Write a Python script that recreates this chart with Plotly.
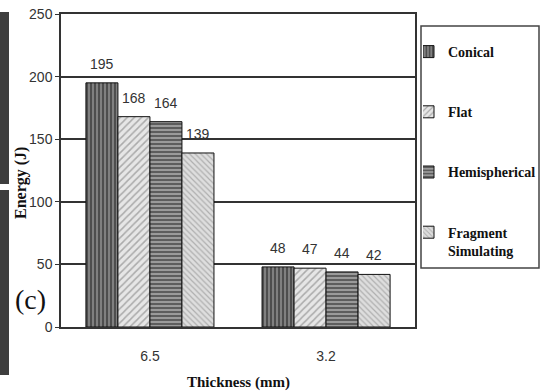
import plotly.graph_objects as go

# Impact energy by projectile nose shape and plate thickness
thickness = ["6.5", "3.2"]
series_names = ["Conical", "Flat", "Hemispherical", "Fragment<br>Simulating"]
conical = [195, 48]
flat = [168, 47]
hemispherical = [164, 44]
fragment = [139, 42]
values = [conical, flat, hemispherical, fragment]
y_ticks = [0, 50, 100, 150, 200, 250]

# hatch style for each series
patterns = [
    dict(shape="|", fgcolor="#111111", bgcolor="#808080", size=4, solidity=0.45),
    dict(shape="/", fgcolor="#6e6e6e", bgcolor="#e6e6e6", size=5, solidity=0.3),
    dict(shape="-", fgcolor="#111111", bgcolor="#9a9a9a", size=4, solidity=0.45),
    dict(shape="\\", fgcolor="#808080", bgcolor="#dedede", size=4, solidity=0.3),
]

W, H = 548, 392
ML, MR, MT, MB = 61, 133, 14, 65
PW, PH = W - ML - MR, H - MT - MB


def px_x(x):
    return (x - ML) / PW


def px_y(y):
    return (H - MB - y) / PH


BARGAP = 0.273
sans = "Liberation Sans, Arial, sans-serif"
serif = "Liberation Serif, Times New Roman, serif"

fig = go.Figure()
for i, (name, vals, pat) in enumerate(zip(series_names, values, patterns)):
    fig.add_trace(go.Bar(
        x=thickness, y=vals, name=name, legendgroup=str(i),
        marker=dict(color=pat["bgcolor"], pattern=pat,
                    line=dict(color="#111111", width=1)),
    ))

# value labels above each bar
n = len(values)
group_w = 1 - BARGAP
bar_w = group_w / n
annotations = []
for i, vals in enumerate(values):
    offset = -group_w / 2 + (i + 0.5) * bar_w
    for j, v in enumerate(vals):
        annotations.append(dict(
            x=j + offset, y=v, xref="x", yref="y", text=str(v),
            showarrow=False, yanchor="middle", yshift=19,
            font=dict(family=sans, size=14, color="#333333"),
        ))

# panel tag and axis titles
annotations += [
    dict(x=px_x(30), y=px_y(299), xref="paper", yref="paper", text="(c)",
         showarrow=False, xanchor="center", yanchor="middle",
         font=dict(family=serif, size=28, color="#111111")),
    dict(x=0.5, y=px_y(382), xref="paper", yref="paper", text="Thickness (mm)",
         showarrow=False, xanchor="center", yanchor="middle",
         font=dict(family=serif, size=15, color="#111111", weight="bold")),
    dict(x=px_x(21), y=px_y(183), xref="paper", yref="paper", text="Energy (J)",
         showarrow=False, xanchor="center", yanchor="middle", textangle=-90,
         font=dict(family=serif, size=16, color="#111111", weight="bold")),
]

shapes = [
    # dark strips along the left edge
    dict(type="rect", xref="paper", yref="paper",
         x0=px_x(0), x1=px_x(9), y0=px_y(12), y1=px_y(184),
         fillcolor="#3e3e3e", line=dict(width=0), layer="below"),
    dict(type="rect", xref="paper", yref="paper",
         x0=px_x(0), x1=px_x(9), y0=px_y(190), y1=px_y(375),
         fillcolor="#3e3e3e", line=dict(width=0), layer="below"),
    # legend frame
    dict(type="rect", xref="paper", yref="paper",
         x0=px_x(421), x1=px_x(539), y0=px_y(26), y1=px_y(268),
         fillcolor="white", line=dict(color="#444444", width=1.5), layer="below"),
]

fig.update_layout(
    width=W, height=H,
    margin=dict(l=ML, r=MR, t=MT, b=MB, autoexpand=False),
    paper_bgcolor="white", plot_bgcolor="white",
    barmode="group", bargap=BARGAP, bargroupgap=0,
    showlegend=True,
    legend=dict(
        x=px_x(423), y=px_y(36), xanchor="left", yanchor="top",
        borderwidth=0, bgcolor="rgba(0,0,0,0)",
        font=dict(family=serif, size=14, color="#111111", weight="bold"),
        tracegroupgap=39, traceorder="grouped", valign="top",
        indentation=-15,
    ),
    annotations=annotations,
    shapes=shapes,
)

fig.update_xaxes(
    range=[-0.505, 1.505],
    showline=True, linecolor="#333333", linewidth=1.5, mirror=True,
    ticks="", ticklabelstandoff=15,
    tickfont=dict(family=sans, size=14, color="#333333"),
)
fig.update_yaxes(
    range=[0, 250], tickvals=y_ticks,
    showline=True, linecolor="#333333", linewidth=1.5, mirror=True,
    showgrid=True, gridcolor="#333333", gridwidth=1.5, zeroline=False,
    ticks="outside", ticklen=4, tickcolor="#333333",
    tickfont=dict(family=sans, size=14, color="#333333"),
)

fig.write_html("out.html")
